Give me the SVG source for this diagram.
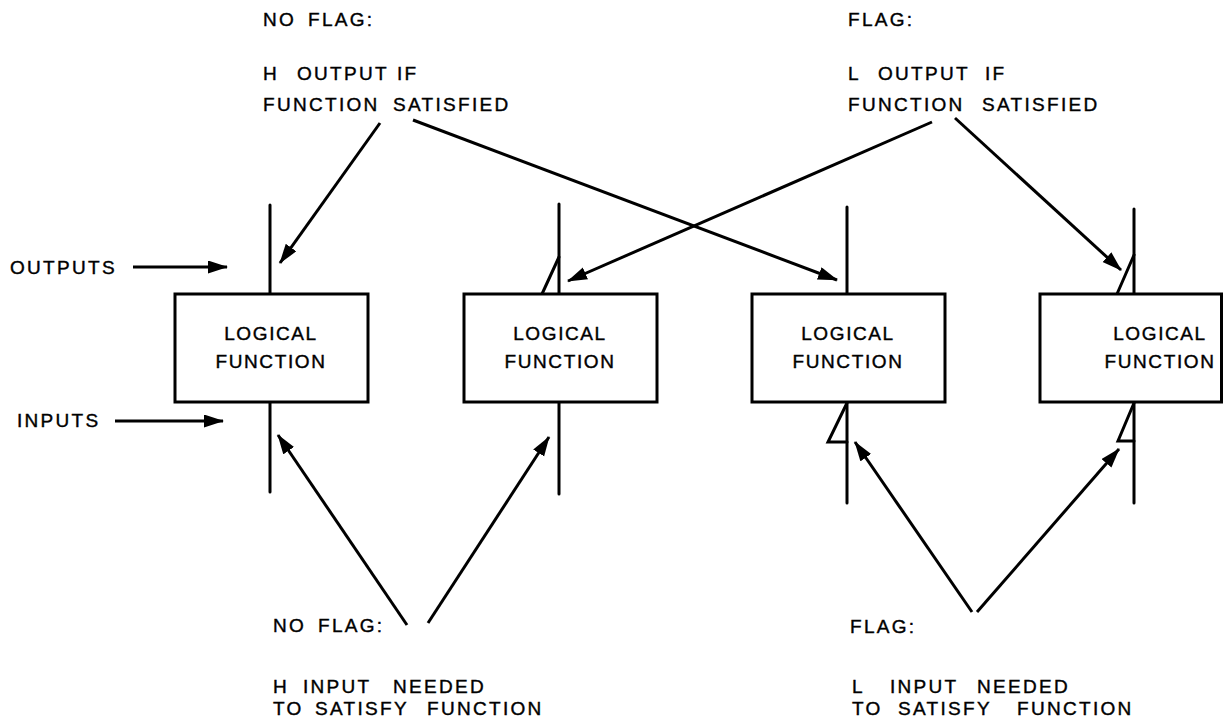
<svg xmlns="http://www.w3.org/2000/svg" width="1223" height="727" viewBox="0 0 1223 727">
  <style>
    .bg { fill: #ffffff; }
    .lbl { font-family: "Liberation Sans", Arial, sans-serif; font-size: 19px; letter-spacing: 2.3px; fill: #000; stroke: #000; stroke-width: 0.4px; }
    .box { fill: #ffffff; stroke: #000; stroke-width: 3; }
    .boxtxt { font-family: "Liberation Sans", Arial, sans-serif; font-size: 19px; letter-spacing: 1.6px; fill: #000; stroke: #000; stroke-width: 0.4px; text-anchor: middle; }
    .wire { stroke: #000; stroke-width: 3; fill: none; stroke-linecap: round; stroke-linejoin: miter; }
    .arrow { stroke: #000; stroke-width: 3; fill: none; marker-end: url(#head); }
  </style>
  <defs>
    <marker id="head" markerUnits="userSpaceOnUse" markerWidth="22" markerHeight="14" refX="19" refY="6.5" orient="auto">
      <path d="M0,0 L20,6.5 L0,13 z" fill="#000"/>
    </marker>
  </defs>

  <rect class="bg" x="0" y="0" width="1223" height="727"/>

  <!-- Side labels -->
  <g id="label-outputs">
    <text class="lbl" x="10" y="274">OUTPUTS</text>
  </g>
  <g id="label-inputs">
    <text class="lbl" x="17" y="427">INPUTS</text>
  </g>

  <!-- Top annotations -->
  <g id="note-output-noflag">
    <text class="lbl" y="26"><tspan x="263">NO</tspan><tspan x="308">FLAG:</tspan></text>
    <text class="lbl" y="80"><tspan x="263">H</tspan><tspan x="297">OUTPUT</tspan><tspan x="397">IF</tspan></text>
    <text class="lbl" y="111"><tspan x="263">FUNCTION</tspan><tspan x="393">SATISFIED</tspan></text>
  </g>
  <g id="note-output-flag">
    <text class="lbl" x="848" y="26">FLAG:</text>
    <text class="lbl" y="80"><tspan x="848">L</tspan><tspan x="878">OUTPUT</tspan><tspan x="985">IF</tspan></text>
    <text class="lbl" y="111"><tspan x="848">FUNCTION</tspan><tspan x="982">SATISFIED</tspan></text>
  </g>

  <!-- Bottom annotations -->
  <g id="note-input-noflag">
    <text class="lbl" y="632"><tspan x="273">NO</tspan><tspan x="318">FLAG:</tspan></text>
    <text class="lbl" y="693"><tspan x="273">H</tspan><tspan x="303">INPUT</tspan><tspan x="393">NEEDED</tspan></text>
    <text class="lbl" y="715"><tspan x="273">TO</tspan><tspan x="315">SATISFY</tspan><tspan x="427">FUNCTION</tspan></text>
  </g>
  <g id="note-input-flag">
    <text class="lbl" x="850" y="633">FLAG:</text>
    <text class="lbl" y="693"><tspan x="852">L</tspan><tspan x="890">INPUT</tspan><tspan x="977">NEEDED</tspan></text>
    <text class="lbl" y="715"><tspan x="852">TO</tspan><tspan x="898">SATISFY</tspan><tspan x="1017">FUNCTION</tspan></text>
  </g>

  <!-- Gate 1: plain output, plain input -->
  <g id="gate1">
    <line class="wire" x1="270" y1="205" x2="270" y2="294"/>
    <line class="wire" x1="270" y1="402" x2="270" y2="492"/>
    <rect class="box" x="175" y="294" width="193" height="108"/>
    <text class="boxtxt" x="271" y="340">LOGICAL</text>
    <text class="boxtxt" x="271" y="368">FUNCTION</text>
  </g>

  <!-- Gate 2: flagged output, plain input -->
  <g id="gate2">
    <line class="wire" x1="559" y1="204" x2="559" y2="294"/>
    <line class="wire" x1="559" y1="402" x2="559" y2="494"/>
    <polyline class="wire" points="542,294 559,257"/>
    <rect class="box" x="464" y="294" width="193" height="108"/>
    <text class="boxtxt" x="560" y="340">LOGICAL</text>
    <text class="boxtxt" x="560" y="368">FUNCTION</text>
  </g>

  <!-- Gate 3: plain output, flagged input -->
  <g id="gate3">
    <line class="wire" x1="847" y1="207" x2="847" y2="294"/>
    <line class="wire" x1="847" y1="402" x2="847" y2="503"/>
    <polyline class="wire" points="847,403 828,442 847,442"/>
    <rect class="box" x="752" y="294" width="193" height="108"/>
    <text class="boxtxt" x="848" y="340">LOGICAL</text>
    <text class="boxtxt" x="848" y="368">FUNCTION</text>
  </g>

  <!-- Gate 4: flagged output, flagged input -->
  <g id="gate4">
    <line class="wire" x1="1134" y1="209" x2="1134" y2="294"/>
    <line class="wire" x1="1134" y1="402" x2="1134" y2="503"/>
    <polyline class="wire" points="1117,294 1134,255"/>
    <polyline class="wire" points="1134,403 1118,441 1134,441"/>
    <rect class="box" x="1040" y="294" width="181.5" height="108"/>
    <text class="boxtxt" x="1160" y="340">LOGICAL</text>
    <text class="boxtxt" x="1160" y="368">FUNCTION</text>
  </g>

  <!-- Leader arrows -->
  <g id="connectors">
    <line class="arrow" x1="133" y1="267" x2="227" y2="267"/>
    <line class="arrow" x1="115" y1="421" x2="223" y2="421"/>

    <line class="arrow" x1="380" y1="123" x2="280" y2="263"/>
    <line class="arrow" x1="413" y1="120" x2="837" y2="280"/>
    <line class="arrow" x1="932" y1="122" x2="568" y2="281"/>
    <line class="arrow" x1="955" y1="118" x2="1121" y2="270"/>

    <line class="arrow" x1="407" y1="625" x2="278" y2="435"/>
    <line class="arrow" x1="428" y1="623" x2="549" y2="437"/>
    <line class="arrow" x1="972" y1="612" x2="855" y2="442"/>
    <line class="arrow" x1="977" y1="612" x2="1119" y2="449"/>
  </g>
</svg>
